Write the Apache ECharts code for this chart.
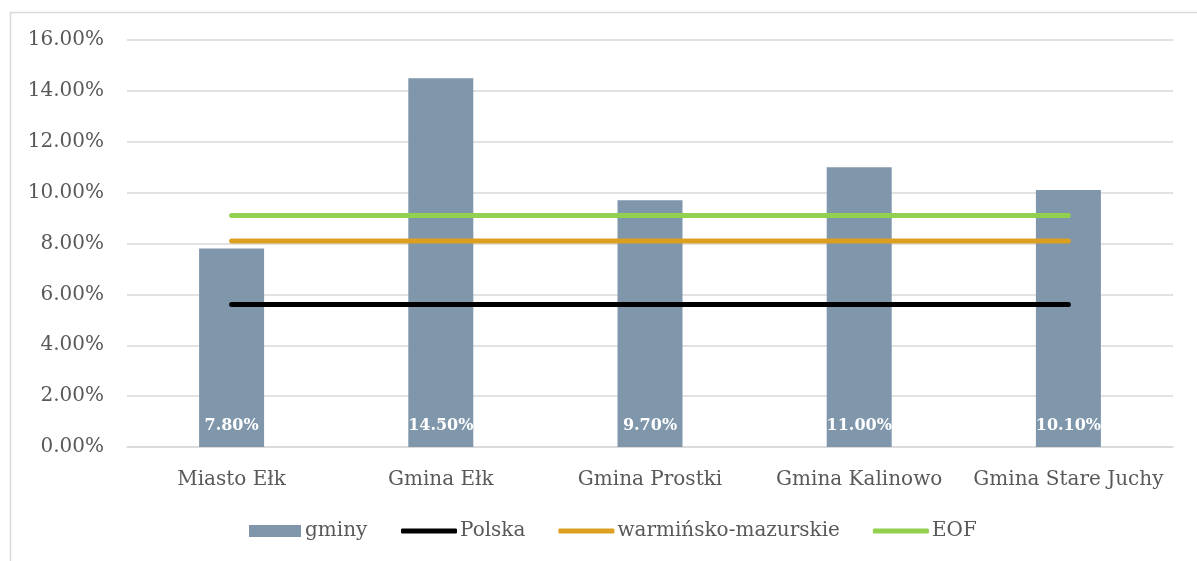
<!DOCTYPE html>
<html>
<head>
<meta charset="utf-8">
<script src="https://cdn.jsdelivr.net/npm/echarts@6/dist/echarts.min.js"></script>
<style>
  html, body { margin: 0; padding: 0; background: #fff; }
  #chart { width: 1197px; height: 561px; }
</style>
</head>
<body>
<div id="chart"></div>
<script>
// dane z wykresu (w procentach)
var kategorie = ['Miasto Ełk', 'Gmina Ełk', 'Gmina Prostki', 'Gmina Kalinowo', 'Gmina Stare Juchy']
var gminy = [7.8, 14.5, 9.7, 11.0, 10.1]
var polska = [5.6, 5.6, 5.6, 5.6, 5.6]
var warminskoMazurskie = [8.1, 8.1, 8.1, 8.1, 8.1]
var eof = [9.1, 9.1, 9.1, 9.1, 9.1]

var czcionka = "'DejaVu Serif', serif"
var szary = '#595959'

var myChart = echarts.init(document.getElementById('chart'))
myChart.setOption({
    animation: false,
    graphic: [
        {
            type: 'rect',
            left: 8,
            top: 10,
            shape: { width: 1400, height: 800 },
            style: { fill: 'none', stroke: '#d9d9d9', lineWidth: 1.5 },
            silent: true,
            z: -1
        }
    ],
    grid: {
        left: 127,
        right: 24,
        top: 40,
        bottom: 114
    },
    legend: [
        {
            // słupki
            left: 244,
            top: 516,
            itemWidth: 52,
            itemHeight: 12,
            textStyle: { fontFamily: czcionka, fontSize: 20, color: szary, padding: [0, 0, 0, -1] },
            data: [{ name: 'gminy', icon: 'rect' }]
        },
        {
            // linie
            left: 396,
            top: 516,
            itemWidth: 56,
            itemHeight: 5,
            itemGap: 33,
            textStyle: { fontFamily: czcionka, fontSize: 20, color: szary, padding: [0, 0, 0, -2] },
            data: [
                { name: 'Polska', icon: 'roundRect' },
                { name: 'warmińsko-mazurskie', icon: 'roundRect' },
                { name: 'EOF', icon: 'roundRect' }
            ]
        }
    ],
    xAxis: {
        type: 'category',
        data: kategorie,
        axisLine: { lineStyle: { color: '#d9d9d9', width: 1.5 } },
        axisTick: { show: false },
        axisLabel: { fontFamily: czcionka, fontSize: 20, color: szary, margin: 23, interval: 0 }
    },
    yAxis: {
        type: 'value',
        min: 0,
        max: 16,
        interval: 2,
        splitLine: { lineStyle: { color: '#d9d9d9', width: 1.5 } },
        axisLabel: {
            fontFamily: czcionka,
            fontSize: 20,
            color: szary,
            margin: 23,
            formatter: function (v) { return v.toFixed(2) + '%' }
        }
    },
    series: [
        {
            name: 'gminy',
            type: 'bar',
            data: gminy,
            barWidth: 65,
            itemStyle: { color: '#7f96ab' },
            label: {
                show: true,
                position: 'insideBottom',
                distance: 13,
                color: '#fff',
                fontFamily: czcionka,
                fontWeight: 'bold',
                fontSize: 16,
                formatter: function (p) { return p.value.toFixed(2) + '%' }
            }
        },
        {
            name: 'Polska',
            type: 'line',
            data: polska,
            symbol: 'none',
            itemStyle: { color: '#000000' },
            lineStyle: { color: '#000000', width: 5, cap: 'round' }
        },
        {
            name: 'warmińsko-mazurskie',
            type: 'line',
            data: warminskoMazurskie,
            symbol: 'none',
            itemStyle: { color: '#dc9f22' },
            lineStyle: { color: '#dc9f22', width: 5, cap: 'round' }
        },
        {
            name: 'EOF',
            type: 'line',
            data: eof,
            symbol: 'none',
            itemStyle: { color: '#92d050' },
            lineStyle: { color: '#92d050', width: 5, cap: 'round' }
        }
    ]
})
</script>
</body>
</html>
